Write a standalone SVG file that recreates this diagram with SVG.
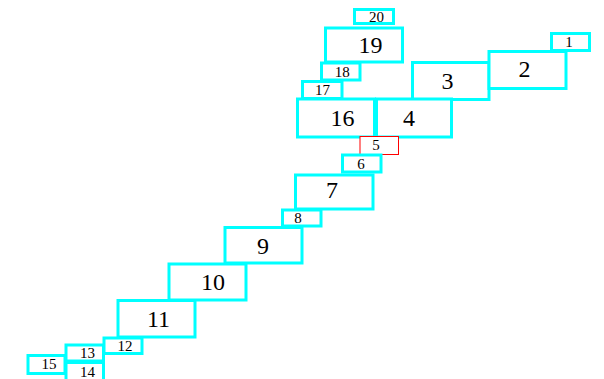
<svg xmlns="http://www.w3.org/2000/svg" width="604" height="379" viewBox="0 0 604 379">
<style>
.n{fill:#fff;stroke:#00ffff;stroke-width:3}
.r{fill:#fff;stroke:#ff0000;stroke-width:1}
.b{font-family:"Liberation Serif",serif;font-size:24px;text-anchor:middle;fill:#000}
.s{font-family:"Liberation Serif",serif;font-size:15px;text-anchor:middle;fill:#000}
</style>
<rect width="604" height="379" fill="#fff"/>
<g id="connectors"></g>
<g id="n20"><rect class="n" x="354.5" y="9.5" width="39" height="14"/><text class="s" x="376.5" y="22">20</text></g>
<g id="n19"><rect class="n" x="325.5" y="28" width="77" height="34"/><text class="b" x="370.5" y="53">19</text></g>
<g id="n18"><rect class="n" x="321.5" y="63" width="38.5" height="17"/><text class="s" x="342.3" y="77">18</text></g>
<g id="n17"><rect class="n" x="302.5" y="81.5" width="39.5" height="17"/><text class="s" x="322.5" y="95">17</text></g>
<g id="n3"><rect class="n" x="412.5" y="62.5" width="76.5" height="37"/><text class="b" x="447.5" y="89">3</text></g>
<g id="n2"><rect class="n" x="489" y="51.5" width="77" height="37"/><text class="b" x="524.5" y="77">2</text></g>
<g id="n1"><rect class="n" x="551.5" y="33.5" width="38" height="17"/><text class="s" x="569" y="47">1</text></g>
<g id="n16"><rect class="n" x="297.5" y="99" width="77" height="38"/><text class="b" x="342.5" y="126">16</text></g>
<g id="n4"><rect class="n" x="376.5" y="99" width="75" height="38"/><text class="b" x="409" y="126">4</text></g>
<g id="n5"><rect class="r" x="360" y="136.5" width="38.5" height="18"/><text class="s" x="376" y="150">5</text></g>
<g id="n6"><rect class="n" x="342.5" y="155" width="38.5" height="17"/><text class="s" x="361" y="169">6</text></g>
<g id="n7"><rect class="n" x="295.5" y="175" width="77.5" height="34"/><text class="b" x="332" y="198">7</text></g>
<g id="n8"><rect class="n" x="282.5" y="210" width="38.5" height="16"/><text class="s" x="298" y="223">8</text></g>
<g id="n9"><rect class="n" x="225" y="227.5" width="77" height="35.5"/><text class="b" x="263" y="254">9</text></g>
<g id="n10"><rect class="n" x="169" y="264" width="77" height="36"/><text class="b" x="213" y="290">10</text></g>
<g id="n11"><rect class="n" x="118" y="300.5" width="77" height="36.5"/><text class="b" x="158.5" y="327">11</text></g>
<g id="n12"><rect class="n" x="104" y="338" width="38" height="15.5"/><text class="s" x="125" y="351">12</text></g>
<g id="n13"><rect class="n" x="66" y="345" width="37.5" height="16"/><text class="s" x="87.5" y="358">13</text></g>
<g id="n14"><rect class="n" x="66" y="362.5" width="37.5" height="18"/><text class="s" x="87.5" y="377">14</text></g>
<g id="n15"><rect class="n" x="28" y="355.5" width="37" height="18"/><text class="s" x="49" y="369">15</text></g>
</svg>
